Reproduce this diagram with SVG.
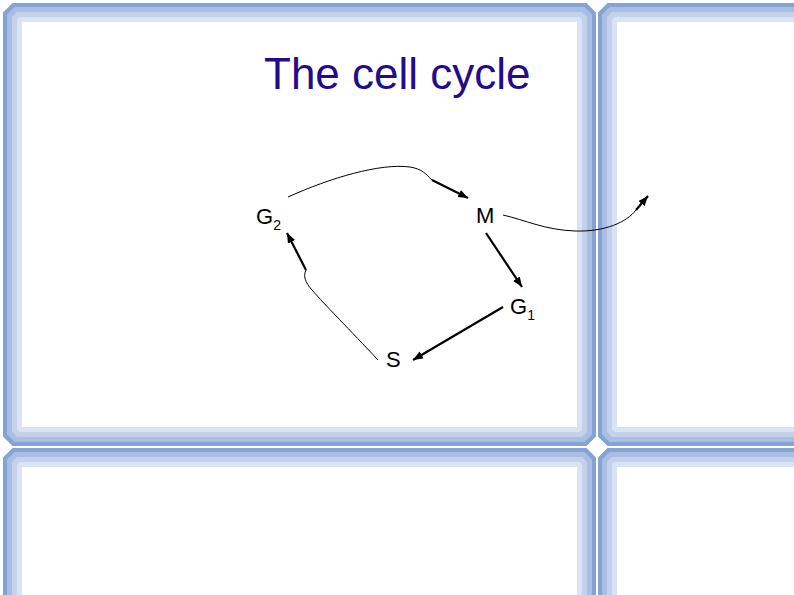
<svg xmlns="http://www.w3.org/2000/svg" width="794" height="595" viewBox="0 0 794 595">
<defs>
<style>
.f0{fill:none;stroke:#86a3d5;stroke-width:19;stroke-linejoin:bevel}
.f1{fill:none;stroke:#a9bee3;stroke-width:15;stroke-linejoin:bevel}
.f2{fill:none;stroke:#c3d1eb;stroke-width:10;stroke-linejoin:bevel}
.f3{fill:none;stroke:#d9e3f3;stroke-width:5;stroke-linejoin:bevel}
.lbl{font-family:"Liberation Sans",Arial,sans-serif;fill:#000}
.thin{fill:none;stroke:#000;stroke-width:1}
.thick{fill:none;stroke:#000;stroke-width:2.2;marker-end:url(#ah)}
</style>
<marker id="ah" markerUnits="userSpaceOnUse" markerWidth="12" markerHeight="10" refX="10" refY="4" orient="auto">
<path d="M0,0 L10,4 L0,8 Z" fill="#000"/>
</marker>
</defs>
<rect width="794" height="595" fill="#fff"/>
<g id="frame">
<rect class="f0" x="12.5" y="12.5" width="574" height="424"/>
<rect class="f1" x="14.5" y="14.5" width="570" height="420"/>
<rect class="f2" x="17" y="17" width="565" height="415"/>
<rect class="f3" x="19.5" y="19.5" width="560" height="410"/>
<rect class="f0" x="607.5" y="12.5" width="203" height="424"/>
<rect class="f1" x="609.5" y="14.5" width="199" height="420"/>
<rect class="f2" x="612" y="17" width="194" height="415"/>
<rect class="f3" x="614.5" y="19.5" width="189" height="410"/>
<rect class="f0" x="12.5" y="457.5" width="574" height="153"/>
<rect class="f1" x="14.5" y="459.5" width="570" height="149"/>
<rect class="f2" x="17" y="462" width="565" height="144"/>
<rect class="f3" x="19.5" y="464.5" width="560" height="139"/>
<rect class="f0" x="607.5" y="457.5" width="203" height="153"/>
<rect class="f1" x="609.5" y="459.5" width="199" height="149"/>
<rect class="f2" x="612" y="462" width="194" height="144"/>
<rect class="f3" x="614.5" y="464.5" width="189" height="139"/>
</g>
<text id="title" x="264" y="89" font-family="Liberation Sans, Arial, sans-serif" font-size="44" fill="#220c8c">The cell cycle</text>
<g id="connectors">
<path class="thin" d="M288,197 C330,178 380,163 410,167 C422,169 426,174 432,180"/>
<path class="thick" d="M432,180 L468,198"/>
<path class="thick" d="M486,233 L522,287"/>
<path class="thick" d="M503,307 L413,360"/>
<path class="thin" d="M378,360 C350,330 325,305 312,290 C305,282 303,276 306,270"/>
<path class="thick" d="M306,270 L287,233"/>
<path class="thin" d="M503,215 C525,220 545,230 575,231 C605,232 627,222 636,210"/>
<path class="thick" d="M636,210 L648,196"/>
</g>
<g id="node-G2"><text class="lbl" x="256" y="224" font-size="22">G<tspan font-size="14" dy="6">2</tspan></text></g>
<g id="node-M"><text class="lbl" x="476" y="223" font-size="22">M</text></g>
<g id="node-G1"><text class="lbl" x="510" y="314" font-size="22">G<tspan font-size="14" dy="6">1</tspan></text></g>
<g id="node-S"><text class="lbl" x="386" y="367" font-size="22">S</text></g>
</svg>
